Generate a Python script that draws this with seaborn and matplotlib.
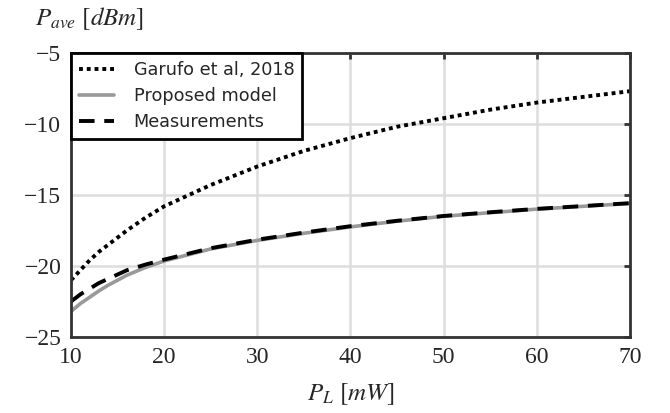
import pandas as pd
import seaborn as sns
import matplotlib.pyplot as plt

# P_L [mW]
p_l = [10, 11, 12, 13, 14, 16, 18, 20, 25, 30, 35, 40, 45, 50, 55, 60, 65, 70]
# P_ave [dBm]
garufo = [-21.0, -20.3, -19.6, -19.0, -18.5, -17.5, -16.6, -15.8, -14.3, -13.0, -11.9,
          -11.0, -10.2, -9.6, -9.0, -8.5, -8.1, -7.7]
proposed = [-23.2, -22.65, -22.2, -21.75, -21.35, -20.65, -20.1, -19.65, -18.8, -18.2,
            -17.7, -17.25, -16.85, -16.5, -16.25, -16.0, -15.8, -15.6]
measured = [-22.5, -22.0, -21.6, -21.2, -20.9, -20.3, -19.9, -19.55, -18.75, -18.15,
            -17.65, -17.2, -16.82, -16.48, -16.22, -15.98, -15.78, -15.58]

df = pd.DataFrame({"P_L": p_l, "garufo": garufo, "proposed": proposed, "measured": measured})

sns.set_style("whitegrid")
plt.rcParams["mathtext.fontset"] = "stix"

fig, ax = plt.subplots(figsize=(6.7, 4.13), dpi=100)

sns.lineplot(data=df, x="P_L", y="garufo", ax=ax, color="black", lw=2.8,
             linestyle=(0, (1, 1)), label="Garufo et al, 2018")
sns.lineplot(data=df, x="P_L", y="proposed", ax=ax, color="#999999", lw=2.6,
             label="Proposed model")
sns.lineplot(data=df, x="P_L", y="measured", ax=ax, color="black", lw=2.8,
             linestyle=(0, (4, 2.5)), label="Measurements")

ax.set_xlim(10, 70)
ax.set_ylim(-25, -5)
ax.set_xticks(range(10, 71, 10))
ax.set_yticks(range(-25, -4, 5))
ax.grid(True, color="#dddddd", lw=1.8)

for s in ax.spines.values():
    s.set_color("#333333")
    s.set_linewidth(2)

ax.tick_params(direction="in", length=4, width=2, color="#333333",
               top=True, right=True, labelsize=17, pad=7)
for lbl in ax.get_xticklabels() + ax.get_yticklabels():
    lbl.set_family("Liberation Serif")
ax.set_yticklabels(["\u221225", "\u221220", "\u221215", "\u221210", "\u22125"])

ax.set_xlabel(r"$P_L\ [mW]$", fontsize=18, labelpad=10)
ax.set_ylabel("")
fig.text(0.052, 0.955, r"$P_{ave}\ [dBm]$", fontsize=18, ha="left", va="center")

leg = ax.legend(loc="upper left", fontsize=12.7, frameon=True, fancybox=False,
                borderaxespad=0, handlelength=2.0, borderpad=0.45, labelspacing=0.45,
                handletextpad=1.1)
leg.get_frame().set_edgecolor("black")
leg.get_frame().set_linewidth(2)
leg.get_frame().set_alpha(1)

fig.subplots_adjust(left=0.106, right=0.94, top=0.872, bottom=0.184)
fig.savefig("out.png", dpi=100)
